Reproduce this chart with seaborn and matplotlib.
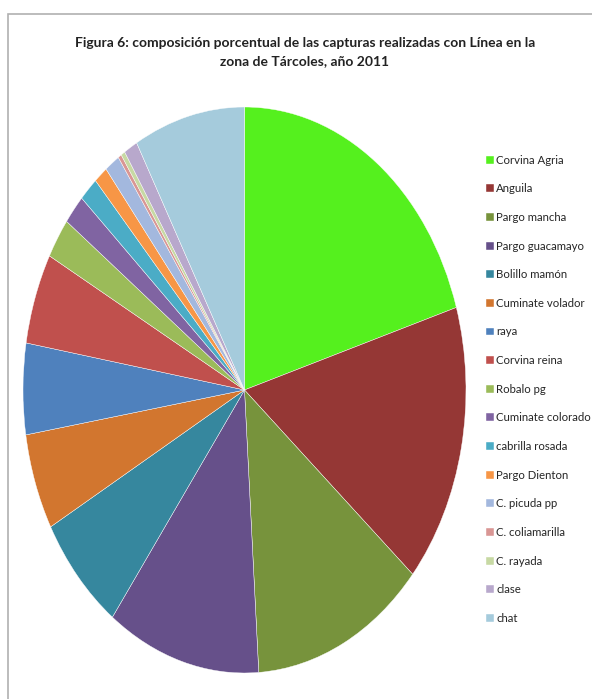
import matplotlib
matplotlib.use("Agg")
import matplotlib.pyplot as plt
import seaborn as sns
from matplotlib.patches import Rectangle

# Data (share of catch, %)
SPECIES = [
    "Corvina Agria", "Anguila", "Pargo mancha", "Pargo guacamayo", "Bolillo mamón",
    "Cuminate volador", "raya", "Corvina reina", "Robalo pg", "Cuminate colorado",
    "cabrilla rosada", "Pargo Dienton", "C. picuda pp", "C. coliamarilla",
    "C. rayada", "clase", "chat",
]
SHARE = [20.3, 16.0, 12.7, 11.2, 6.8, 5.5, 5.2, 5.2, 2.3, 1.7, 1.4, 1.0, 1.1, 0.25, 0.3, 1.0, 8.1]
COLORS = [
    "#55F01E", "#953735", "#77933C", "#66508A", "#36879E", "#D2762F", "#4F81BD",
    "#C0504D", "#9BBB59", "#8064A2", "#4BACC6", "#F79646", "#A3B8DE", "#D99694",
    "#C7D9A3", "#B8A8CC", "#A5CBDC",
]
TITLE = "Figura 6: composición porcentual de las capturas realizadas con Línea en la\nzona de Tárcoles, año 2011"

sns.set_theme(style="white")
plt.rcParams["font.family"] = ["Lato", "DejaVu Sans"]

W, H = 592, 699
fig = plt.figure(figsize=(W / 100, H / 100), dpi=100)

# frame around the chart area
fig.patches.append(
    Rectangle((8 / W, -0.05), 1.1, 1 - 14 / H + 0.05, transform=fig.transFigure,
              fill=False, edgecolor="#B0B0B0", linewidth=1.2)
)

cx, cy, rx, ry = 244.5, 390, 221.5, 283
ax = fig.add_axes([(cx - rx) / W, (H - cy - ry) / H, 2 * rx / W, 2 * ry / H])
wedges, _ = ax.pie(
    SHARE, colors=COLORS, startangle=90, counterclock=False,
    wedgeprops=dict(edgecolor="white", linewidth=0.3),
)
ax.set_aspect("auto")
ax.set_xlim(-1, 1)
ax.set_ylim(-1, 1)
ax.axis("off")

fig.text(305 / W, 1 - 52 / H, TITLE, ha="center", va="center", fontsize=10,
         fontweight="bold", color="#222222", linespacing=1.6)

fig.legend(
    wedges, SPECIES, loc="upper left", bbox_to_anchor=(481 / W, 1 - 150 / H),
    frameon=False, fontsize=8.2, handlelength=0.7, handleheight=0.7,
    handletextpad=0.25, labelspacing=1.55, borderaxespad=0,
)

fig.savefig("out.png", dpi=100, facecolor="white")
